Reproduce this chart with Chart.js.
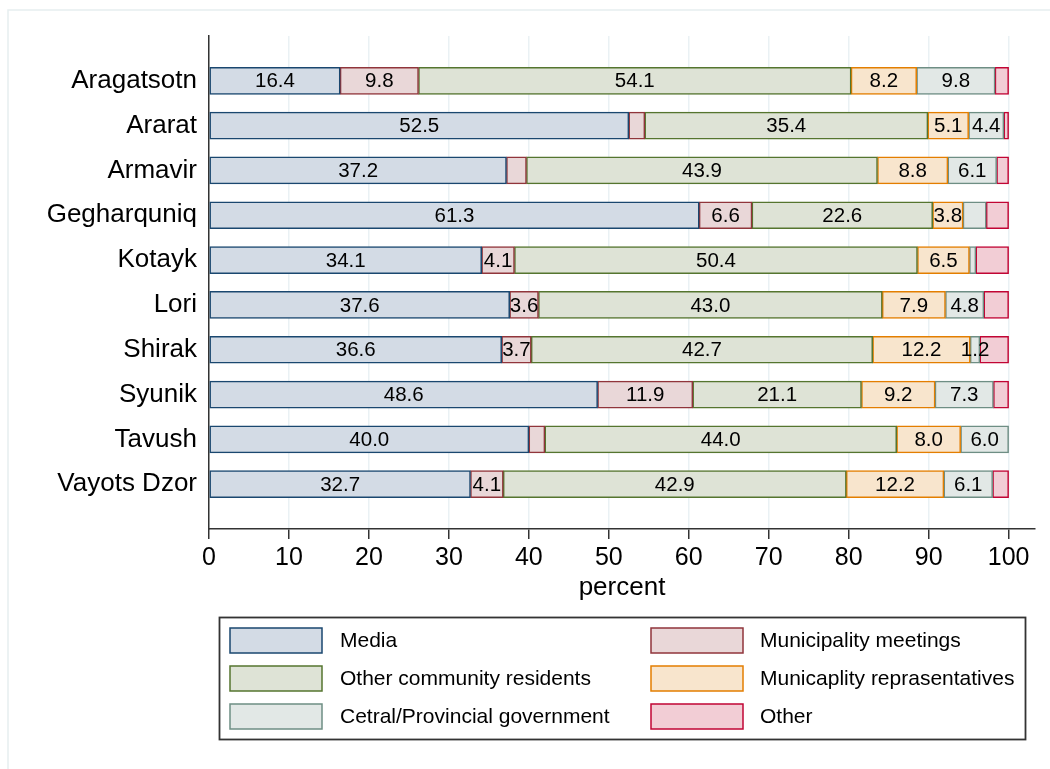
<!DOCTYPE html>
<html>
<head>
<meta charset="utf-8">
<script src="https://cdn.jsdelivr.net/npm/chart.js@4.4.0/dist/chart.umd.min.js"></script>
<style>
  html, body { margin: 0; padding: 0; background: #fff; }
  #wrap { width: 1050px; height: 769px; position: relative; }
</style>
</head>
<body>
<div id="wrap"><canvas id="chart" width="1050" height="769"></canvas></div>
<script>
const regions = ['Aragatsotn', 'Ararat', 'Armavir', 'Gegharquniq', 'Kotayk',
    'Lori', 'Shirak', 'Syunik', 'Tavush', 'Vayots Dzor'];
const seriesNames = ['Media', 'Municipality meetings', 'Other community residents',
    'Municaplity reprasentatives', 'Cetral/Provincial government', 'Other'];

// percent of respondents per source of information, by marz
const media = [16.4, 52.5, 37.2, 61.3, 34.1, 37.6, 36.6, 48.6, 40.0, 32.7];
const meetings = [9.8, 2.0, 2.5, 6.6, 4.1, 3.6, 3.7, 11.9, 2.0, 4.1];
const residents = [54.1, 35.4, 43.9, 22.6, 50.4, 43.0, 42.7, 21.1, 44.0, 42.9];
const representatives = [8.2, 5.1, 8.8, 3.8, 6.5, 7.9, 12.2, 9.2, 8.0, 12.2];
const government = [9.8, 4.4, 6.1, 2.9, 0.8, 4.8, 1.2, 7.3, 6.0, 6.1];
const other = [1.7, 0.6, 1.5, 2.8, 4.1, 3.1, 3.6, 1.9, 0.0, 2.0];

const xTicks = [0, 10, 20, 30, 40, 50, 60, 70, 80, 90, 100];

// segments printed without a value: [series, region]
const unlabeled = [[1, 1], [1, 2], [4, 3], [4, 4], [1, 8]];

const fills = ['#d3dbe5', '#e9d7d8', '#dee3d6', '#f8e5cd', '#e2e8e6', '#f2cdd5'];
const edges = ['#1a476f', '#90353b', '#55752f', '#e37e00', '#6e8e84', '#c10534'];

const FONT = '"Liberation Sans", Arial, Helvetica, sans-serif';

const seriesValues = [media, meetings, residents, representatives, government, other];

const datasets = seriesValues.map((values, s) => ({
    label: seriesNames[s],
    data: values.map((v, i) => ({ x: v, y: i })),
    backgroundColor: fills[s],
    borderColor: edges[s],
    borderWidth: 1.5,
    borderSkipped: false,
    barThickness: 27
}));

const pageFrame = {
    id: 'pageFrame',
    beforeDraw(chart) {
        const ctx = chart.ctx;
        ctx.save();
        ctx.fillStyle = '#fff';
        ctx.fillRect(0, 0, chart.width, chart.height);
        ctx.strokeStyle = '#e6eef0';
        ctx.lineWidth = 1.5;
        ctx.strokeRect(8, 10, chart.width + 20, chart.height + 20);
        ctx.restore();
    }
};

const barLabels = {
    id: 'barLabels',
    afterDatasetsDraw(chart) {
        const ctx = chart.ctx;
        ctx.save();
        ctx.font = `20.5px ${FONT}`;
        ctx.fillStyle = '#000';
        ctx.textAlign = 'center';
        ctx.textBaseline = 'middle';
        chart.data.datasets.forEach((ds, s) => {
            if (s === 5) return;
            chart.getDatasetMeta(s).data.forEach((bar, i) => {
                if (unlabeled.some(([a, b]) => a === s && b === i)) return;
                const { x, y, base } = bar.getProps(['x', 'y', 'base'], true);
                ctx.fillText(ds.data[i].x.toFixed(1), (x + base) / 2, y + 1);
            });
        });
        ctx.restore();
    }
};

const boxLegend = {
    id: 'boxLegend',
    afterDraw(chart) {
        const ctx = chart.ctx;
        const swatchX = [230, 651];
        const textX = [340, 760];
        const rowY = [628, 666, 704];
        ctx.save();
        ctx.strokeStyle = '#333';
        ctx.lineWidth = 1.8;
        ctx.strokeRect(219.5, 617.5, 806, 122);
        ctx.font = `21px ${FONT}`;
        ctx.textBaseline = 'middle';
        ctx.textAlign = 'left';
        chart.data.datasets.forEach((ds, s) => {
            const col = s % 2;
            const row = Math.floor(s / 2);
            ctx.fillStyle = ds.backgroundColor;
            ctx.fillRect(swatchX[col], rowY[row], 92, 25);
            ctx.strokeStyle = ds.borderColor;
            ctx.lineWidth = 1.5;
            ctx.strokeRect(swatchX[col], rowY[row], 92, 25);
            ctx.fillStyle = '#000';
            ctx.fillText(ds.label, textX[col], rowY[row] + 13);
        });
        ctx.restore();
    }
};

new Chart(document.getElementById('chart'), {
    type: 'bar',
    data: { datasets },
    plugins: [pageFrame, barLabels, boxLegend],
    options: {
        indexAxis: 'y',
        responsive: false,
        devicePixelRatio: 1,
        animation: false,
        layout: { padding: { top: 36, right: 15, bottom: 165, left: 0 } },
        plugins: {
            legend: { display: false },
            tooltip: { enabled: false }
        },
        scales: {
            x: {
                type: 'linear',
                stacked: true,
                min: 0,
                max: 103.3,
                afterBuildTicks: (scale) => { scale.ticks = xTicks.map((v) => ({ value: v })); },
                afterFit: (scale) => { scale.height = 75; },
                ticks: {
                    color: '#000',
                    font: { family: FONT, size: 25 },
                    padding: 4,
                    maxRotation: 0
                },
                grid: {
                    color: '#eaf1f4',
                    lineWidth: 1.5,
                    tickColor: '#333',
                    tickLength: 10,
                    tickWidth: 1.5
                },
                border: { display: true, color: '#333', width: 1.5 },
                title: {
                    display: true,
                    text: 'percent',
                    color: '#000',
                    font: { family: FONT, size: 26 },
                    padding: { top: 0, bottom: 1 }
                }
            },
            y: {
                type: 'linear',
                stacked: true,
                reverse: true,
                offset: false,
                min: -1,
                max: 10,
                afterBuildTicks: (scale) => { scale.ticks = regions.map((_, i) => ({ value: i })); },
                afterFit: (scale) => { scale.width = 209; },
                ticks: {
                    color: '#000',
                    font: { family: FONT, size: 26 },
                    padding: 4,
                    callback: (v) => regions[v]
                },
                grid: { display: false, offset: false },
                border: { display: true, color: '#333', width: 1.5 }
            }
        }
    }
});
</script>
</body>
</html>
